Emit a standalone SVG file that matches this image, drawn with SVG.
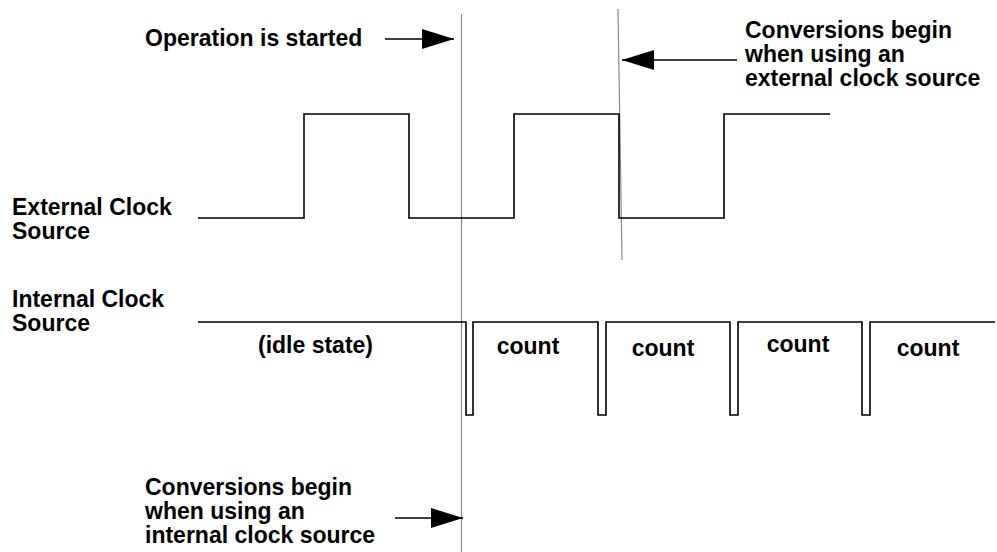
<svg xmlns="http://www.w3.org/2000/svg" width="997" height="552" viewBox="0 0 997 552">
<style>
.t{font-family:"Liberation Sans",Arial,sans-serif;font-weight:bold;font-size:23px;fill:#000}
.w{fill:none;stroke:#000;stroke-width:1.6}
.g{stroke:#888;stroke-width:1.2;fill:none}
.a{stroke:#000;stroke-width:1.5;fill:none}
</style>
<defs>
<marker id="ah" markerUnits="userSpaceOnUse" markerWidth="34" markerHeight="22" refX="32" refY="10" orient="auto">
<path d="M0,0 L32,10 L0,20 Z" fill="#000"/>
</marker>
</defs>
<rect width="997" height="552" fill="#fff"/>
<g id="connectors">
<line class="g" x1="461.5" y1="14" x2="461.5" y2="552"/>
<line class="g" x1="618" y1="9" x2="622" y2="260"/>
<line class="a" x1="385" y1="39" x2="454" y2="39" marker-end="url(#ah)"/>
<line class="a" x1="737" y1="60" x2="622" y2="60" marker-end="url(#ah)"/>
<line class="a" x1="395" y1="518" x2="463" y2="518" marker-end="url(#ah)"/>
</g>
<g id="external-clock">
<polyline class="w" points="198,218 304,218 304,114 409,114 409,218 514,218 514,114 619,114 619,218 724,218 724,114 830,114"/>
</g>
<g id="internal-clock">
<polyline class="w" points="198,322 466,322 466,415 473,415 473,322 598,322 598,415 606,415 606,322 730,322 730,415 738,415 738,322 862,322 862,415 870,415 870,322 995,322"/>
</g>
<g id="label-operation"><text class="t" x="145" y="46">Operation is started</text></g>
<g id="label-ext-conv"><text class="t" x="745" y="38">Conversions begin</text><text class="t" x="745" y="62">when using an</text><text class="t" x="745" y="86">external clock source</text></g>
<g id="label-ext"><text class="t" x="12" y="215">External Clock</text><text class="t" x="12" y="239">Source</text></g>
<g id="label-int"><text class="t" x="12" y="307">Internal Clock</text><text class="t" x="12" y="331">Source</text></g>
<g id="label-idle"><text class="t" x="258" y="353">(idle state)</text></g>
<g id="counts">
<text class="t" x="528" y="354" text-anchor="middle">count</text>
<text class="t" x="663" y="356" text-anchor="middle">count</text>
<text class="t" x="798" y="352" text-anchor="middle">count</text>
<text class="t" x="928" y="356" text-anchor="middle">count</text>
</g>
<g id="label-int-conv"><text class="t" x="145" y="495">Conversions begin</text><text class="t" x="145" y="519">when using an</text><text class="t" x="145" y="543">internal clock source</text></g>
</svg>
